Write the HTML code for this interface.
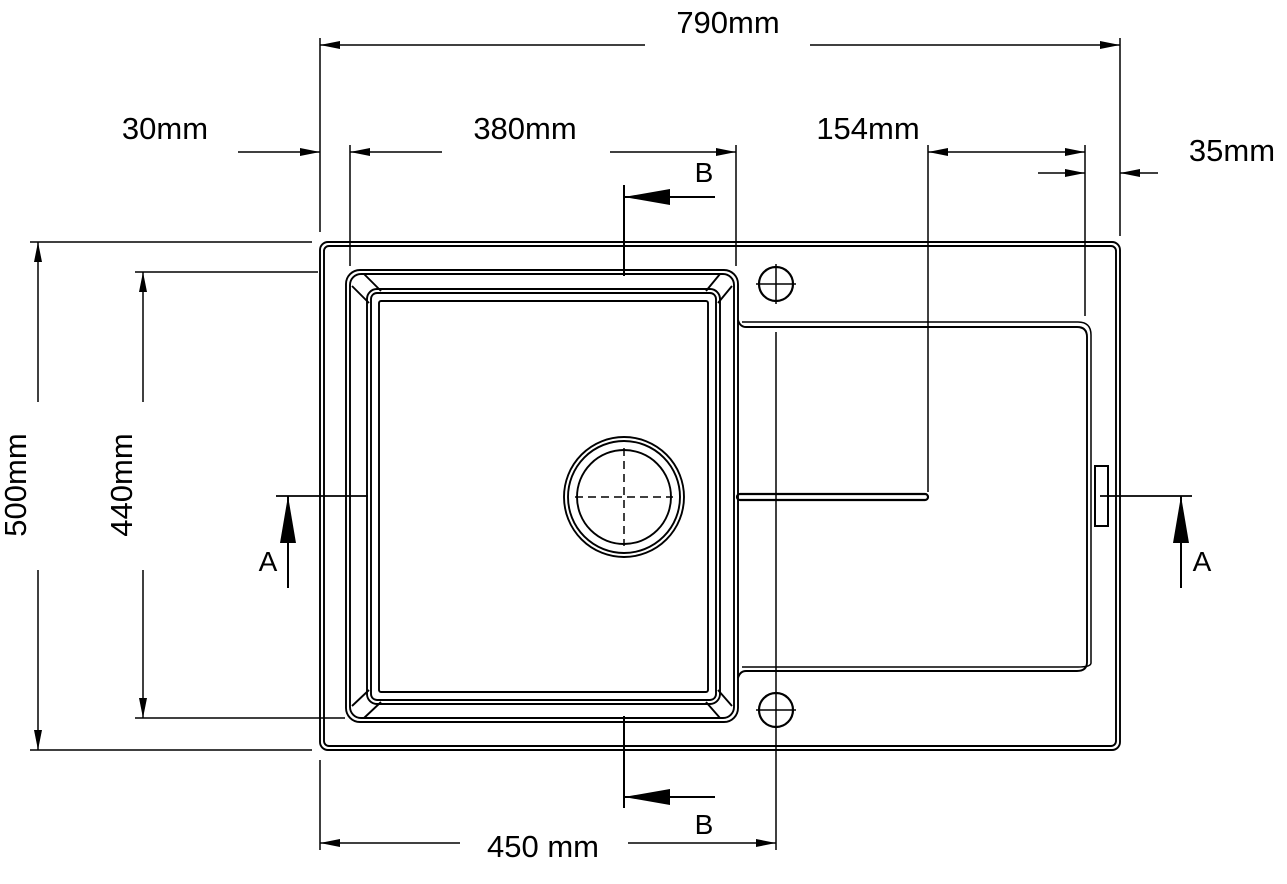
<!DOCTYPE html>
<html><head><meta charset="utf-8"><style>
html,body{margin:0;padding:0;background:#fff;}
svg{display:block;}
text{font-family:"Liberation Sans",sans-serif;font-size:31px;fill:#000;}
</style></head><body>
<svg width="1287" height="884" viewBox="0 0 1287 884" xmlns="http://www.w3.org/2000/svg">
<defs>
<marker id="ar" viewBox="0 0 20 8" refX="20" refY="4" markerWidth="20" markerHeight="8" markerUnits="userSpaceOnUse" orient="auto-start-reverse">
<path d="M0,0 L20,4 L0,8 z" fill="#000"/></marker>
</defs>
<g fill="none" stroke="#000" stroke-width="1.9">
<rect x="320" y="242" width="800" height="508" rx="8"/>
<rect x="324" y="246" width="792" height="500" rx="5"/>
<rect x="346" y="270" width="392" height="452" rx="14"/>
<rect x="350" y="274" width="384" height="444" rx="11"/>
<rect x="367" y="289" width="353" height="415" rx="10"/>
<rect x="371" y="293" width="345" height="407" rx="6"/>
<rect x="379" y="301" width="329" height="391" rx="2"/>
<line x1="352" y1="286" x2="369" y2="303"/><line x1="364" y1="274" x2="381" y2="291"/>
<line x1="732" y1="286" x2="718" y2="303"/><line x1="720" y1="274" x2="706" y2="291"/>
<line x1="352" y1="706" x2="369" y2="690"/><line x1="364" y1="718" x2="381" y2="702"/>
<line x1="732" y1="706" x2="718" y2="690"/><line x1="720" y1="718" x2="706" y2="702"/>
<path d="M738,320 Q740,327 746,327 L1077,327 Q1087,327 1087,337 L1087,662 Q1087,671 1077,671 L746,671 Q740,671 738,678"/>
<path d="M742,322 L1078,322 Q1091,322 1091,335 L1091,663 Q1091,667 1078,667 L742,667" stroke-width="1.5"/>
<path d="M740,494 L925,494 A3,3 0 0 1 925,500 L740,500 A3,3 0 0 1 740,494 z" stroke-width="2.2"/>
<circle cx="624" cy="497" r="60"/><circle cx="624" cy="497" r="56"/><circle cx="624" cy="497" r="47"/>
<line x1="575" y1="497" x2="673" y2="497" stroke-dasharray="8,5" stroke-width="1.5"/>
<line x1="624" y1="448" x2="624" y2="546" stroke-dasharray="8,5" stroke-width="1.5"/>
<circle cx="776" cy="284" r="17" stroke-width="2.2"/><line x1="756" y1="284" x2="796" y2="284" stroke-width="1.5"/><line x1="776" y1="264" x2="776" y2="304" stroke-width="1.5"/>
<circle cx="776" cy="710" r="17" stroke-width="2.2"/><line x1="756" y1="710" x2="796" y2="710" stroke-width="1.5"/>
<rect x="1095" y="466" width="13" height="60" stroke-width="2"/>
</g>
<g stroke="#000" stroke-width="1.5" fill="none">
<line x1="320" y1="38" x2="320" y2="232"/><line x1="1120" y1="38" x2="1120" y2="236"/>
<line x1="645" y1="45" x2="320" y2="45" marker-end="url(#ar)"/>
<line x1="810" y1="45" x2="1120" y2="45" marker-end="url(#ar)"/>
<line x1="238" y1="152" x2="320" y2="152" marker-end="url(#ar)"/>
<line x1="350" y1="145" x2="350" y2="266"/><line x1="736" y1="145" x2="736" y2="266"/>
<line x1="442" y1="152" x2="350" y2="152" marker-end="url(#ar)"/>
<line x1="610" y1="152" x2="736" y2="152" marker-end="url(#ar)"/>
<line x1="928" y1="145" x2="928" y2="492"/><line x1="1085" y1="145" x2="1085" y2="316"/>
<line x1="928" y1="152" x2="1085" y2="152" marker-start="url(#ar)" marker-end="url(#ar)"/>
<line x1="1038" y1="173" x2="1085" y2="173" marker-end="url(#ar)"/>
<line x1="1158" y1="173" x2="1120" y2="173" marker-end="url(#ar)"/>
<line x1="624" y1="185" x2="624" y2="276" stroke-width="2"/>
<line x1="715" y1="197" x2="624" y2="197" stroke-width="2"/>
<line x1="624" y1="716" x2="624" y2="808" stroke-width="2"/>
<line x1="715" y1="797" x2="624" y2="797" stroke-width="2"/>
<line x1="276" y1="496" x2="368" y2="496" stroke-width="1.8"/>
<line x1="288" y1="496" x2="288" y2="588" stroke-width="2"/>
<line x1="1100" y1="496" x2="1192" y2="496" stroke-width="1.8"/>
<line x1="1181" y1="496" x2="1181" y2="588" stroke-width="2"/>
<line x1="30" y1="242" x2="312" y2="242"/><line x1="30" y1="750" x2="312" y2="750"/>
<line x1="38" y1="402" x2="38" y2="242" marker-end="url(#ar)"/>
<line x1="38" y1="570" x2="38" y2="750" marker-end="url(#ar)"/>
<line x1="135" y1="272" x2="318" y2="272"/><line x1="135" y1="718" x2="345" y2="718"/>
<line x1="143" y1="402" x2="143" y2="272" marker-end="url(#ar)"/>
<line x1="143" y1="570" x2="143" y2="718" marker-end="url(#ar)"/>
<line x1="776" y1="332" x2="776" y2="850"/><line x1="320" y1="760" x2="320" y2="850"/>
<line x1="460" y1="843" x2="320" y2="843" marker-end="url(#ar)"/>
<line x1="628" y1="843" x2="776" y2="843" marker-end="url(#ar)"/>
</g>
<g fill="#000">
<path d="M624,197 L670,189 L670,205 z"/>
<path d="M624,797 L670,789 L670,805 z"/>
<path d="M288,496 L280,543 L296,543 z"/>
<path d="M1181,496 L1173,543 L1189,543 z"/>
</g>
<text x="728" y="33" text-anchor="middle">790mm</text>
<text x="165" y="139" text-anchor="middle">30mm</text>
<text x="525" y="139" text-anchor="middle">380mm</text>
<text x="868" y="139" text-anchor="middle">154mm</text>
<text x="1232" y="161" text-anchor="middle">35mm</text>
<text x="704" y="182" text-anchor="middle" style="font-size:28px">B</text>
<text x="704" y="834" text-anchor="middle" style="font-size:28px">B</text>
<text x="268" y="571" text-anchor="middle" style="font-size:28px">A</text>
<text x="1202" y="571" text-anchor="middle" style="font-size:28px">A</text>
<text x="543" y="857" text-anchor="middle">450 mm</text>
<text transform="translate(26,485) rotate(-90)" text-anchor="middle">500mm</text>
<text transform="translate(132,485) rotate(-90)" text-anchor="middle">440mm</text>
</svg>
</body></html>
